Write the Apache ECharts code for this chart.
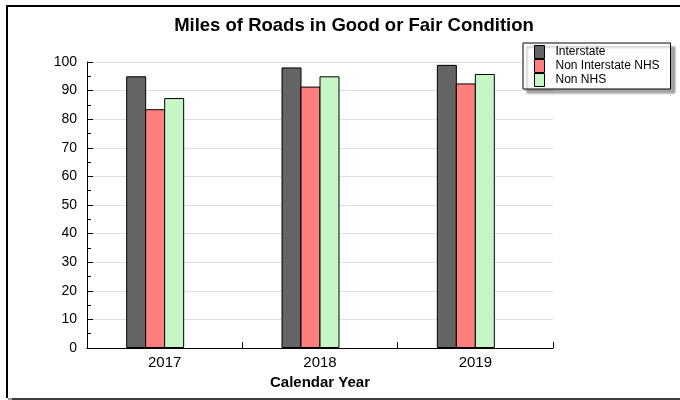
<!DOCTYPE html>
<html><head><meta charset="utf-8">
<script src="https://cdn.jsdelivr.net/npm/echarts@6/dist/echarts.min.js"></script>
<style>html,body{margin:0;padding:0;background:#fff}#c{width:680px;height:400px}</style>
</head><body><div id="c"></div>
<script>
const categories = ['2017', '2018', '2019'];
const interstate = [95.0, 98.1, 99.0];
const nonInterstateNHS = [83.5, 91.4, 92.5];
const nonNHS = [87.4, 95.0, 95.8];
const emptySlot = [null, null, null];
const yTicks = [0, 10, 20, 30, 40, 50, 60, 70, 80, 90, 100];

const chart = echarts.init(document.getElementById('c'));
const font = 'Liberation Sans, Arial, sans-serif';
function bar(name, data, color) {
  return {
    name, type: 'bar', data, barWidth: 20, barGap: '-5%',
    itemStyle: { color, borderColor: '#000', borderWidth: 1 }
  };
}
chart.setOption({
  animation: false,
  textStyle: { fontFamily: font },
  graphic: [
    { type: 'rect', shape: { x: 6, y: 5, width: 674, height: 2 }, style: { fill: '#000' }, z: -1 },
    { type: 'rect', shape: { x: 6, y: 5, width: 2, height: 393 }, style: { fill: '#000' }, z: -1 },
    { type: 'rect', shape: { x: 8, y: 398, width: 4, height: 2 }, style: { fill: '#999' }, z: -1 },
    { type: 'rect', shape: { x: 12, y: 398, width: 668, height: 2 }, style: { fill: '#3c3c3c' }, z: -1 }
  ],
  title: {
    text: 'Miles of Roads in Good or Fair Condition', left: 349, textAlign: 'center', top: 11,
    textStyle: { fontFamily: font, fontSize: 18.5, fontWeight: 'bold', color: '#000' }
  },
  legend: {
    orient: 'vertical', left: 523, top: 43,
    icon: 'rect', itemWidth: 10, itemHeight: 13, itemGap: 0,
    padding: [2, 11, 2, 11],
    backgroundColor: '#fff', borderColor: '#000', borderWidth: 1,
    shadowColor: 'rgba(0,0,0,0.35)', shadowBlur: 2, shadowOffsetX: 4, shadowOffsetY: 4,
    itemStyle: { borderColor: '#000', borderWidth: 1 },
    textStyle: { fontFamily: font, fontSize: 12, color: '#000', padding: [0, 0, 0, 6], lineHeight: 13 },
    data: ['Interstate', 'Non Interstate NHS', 'Non NHS']
  },
  grid: { left: 87, right: 127, top: 62, bottom: 52 },
  xAxis: {
    type: 'category', data: categories,
    name: 'Calendar Year', nameLocation: 'middle', nameGap: 24,
    nameTextStyle: { fontFamily: font, fontSize: 15, fontWeight: 'bold', color: '#000' },
    axisLine: { lineStyle: { color: '#000' } },
    axisTick: { show: true, inside: true, length: 6, lineStyle: { color: '#000' } },
    axisLabel: { fontFamily: font, fontSize: 15, color: '#000', margin: 7 }
  },
  yAxis: {
    type: 'value', min: 0, max: 100, interval: 10,
    axisLine: { show: true, lineStyle: { color: '#000' } },
    axisTick: { show: true, inside: true, length: 6, lineStyle: { color: '#000' } },
    minorTick: { show: true, splitNumber: 2, length: 4, lineStyle: { color: '#000' } },
    splitLine: { show: true, lineStyle: { color: '#e0e0e0' } },
    axisLabel: {
      fontFamily: font, fontSize: 14, color: '#000', margin: 10,
      formatter: v => yTicks.includes(v) ? String(v) : ''
    }
  },
  series: [
    bar('Interstate', interstate, '#646464'),
    bar('Non Interstate NHS', nonInterstateNHS, '#ff7f7f'),
    bar('Non NHS', nonNHS, '#c6f5c6'),
    bar('', emptySlot, 'transparent')
  ]
});
</script></body></html>
